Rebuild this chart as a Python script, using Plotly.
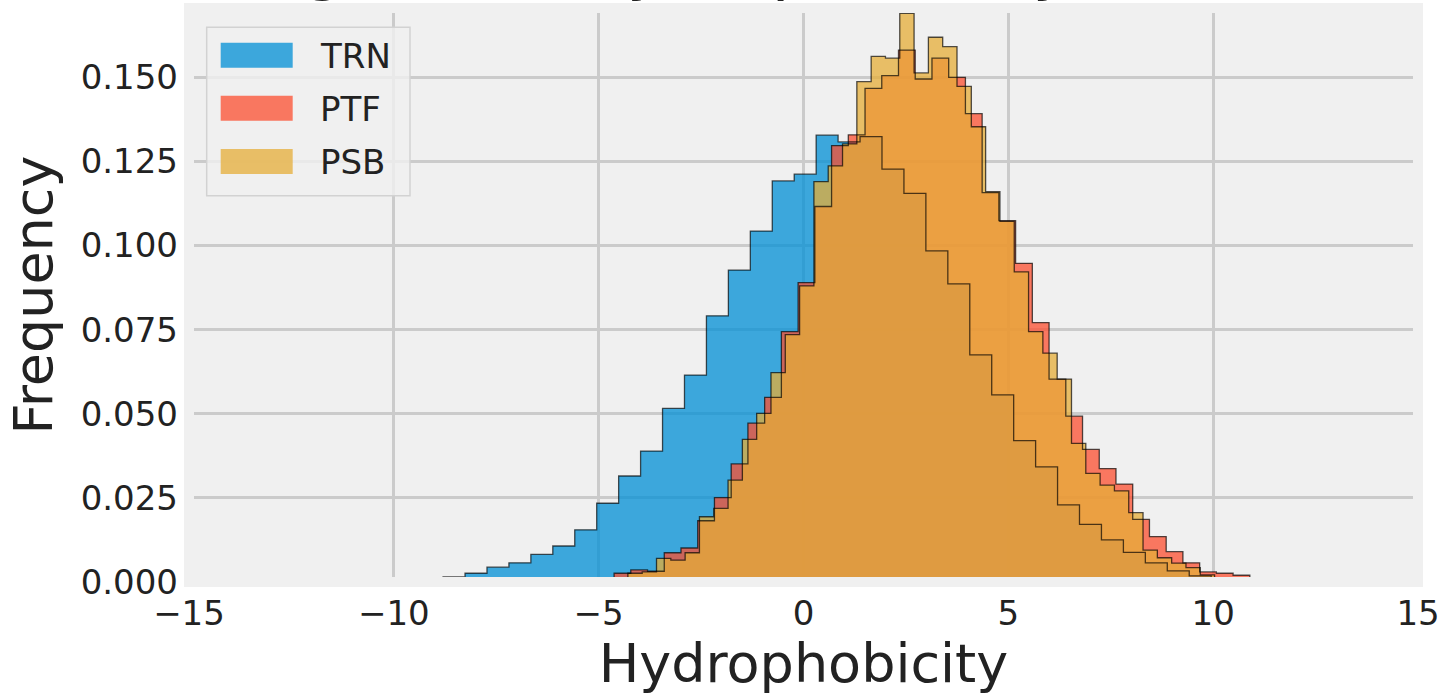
import numpy as np
import plotly.graph_objects as go

# ---------------- data ----------------
series_names = ["TRN", "PTF", "PSB"]

trn_start, trn_width = -8.798, 0.5357
trn_freq = [0.0015, 0.0026, 0.0044, 0.0057, 0.0082, 0.0107, 0.0155, 0.0234, 0.0315, 0.0389,
            0.0516, 0.0615, 0.0791, 0.0927, 0.1043, 0.1192, 0.1212, 0.1328, 0.1308, 0.1324,
            0.1227, 0.1155, 0.0984, 0.0886, 0.0675, 0.0556, 0.0420, 0.0342, 0.0229, 0.0171,
            0.0125, 0.0088, 0.0057, 0.0033, 0.0018]

ptf_start, ptf_width = -4.624, 0.4084
ptf_freq = [0.0026, 0.0036, 0.0032, 0.0087, 0.0101, 0.0182, 0.0251, 0.0351, 0.0472, 0.0549,
            0.0744, 0.0890, 0.1116, 0.1297, 0.1329, 0.1467, 0.1505, 0.1581, 0.1495, 0.1557,
            0.1500, 0.1392, 0.1157, 0.1074, 0.0947, 0.0771, 0.0603, 0.0493, 0.0394, 0.0337,
            0.0291, 0.0186, 0.0135, 0.0090, 0.0057, 0.0030, 0.0026, 0.0020]

psb_start, psb_width = -4.636, 0.3493
psb_freq = [0.0012, 0.0026, 0.0030, 0.0070, 0.0065, 0.0087, 0.0194, 0.0219, 0.0303, 0.0424,
            0.0501, 0.0622, 0.0735, 0.0880, 0.1190, 0.1237, 0.1302, 0.1487, 0.1562, 0.1557,
            0.1690, 0.1513, 0.1619, 0.1591, 0.1473, 0.1353, 0.1160, 0.1072, 0.0922, 0.0744,
            0.0680, 0.0603, 0.0412, 0.0323, 0.0288, 0.0271, 0.0206, 0.0095, 0.0072, 0.0056,
            0.0043, 0.0021]

x_tick_vals = [-15, -10, -5, 0, 5, 10, 15]
x_tick_text = ["\u221215", "\u221210", "\u22125", "0", "5", "10", "15"]
y_tick_vals = [0.0, 0.025, 0.05, 0.075, 0.10, 0.125, 0.15]
y_tick_text = ["0.000", "0.025", "0.050", "0.075", "0.100", "0.125", "0.150"]

title_text = "Histogram of Hydrophobicity Distribution"
x_title = "Hydrophobicity"
y_title = "Frequency"

# ---------------- style ----------------
fill_colors = ["rgba(0,143,213,0.75)", "rgba(252,79,48,0.75)", "rgba(229,174,56,0.75)"]
edge_color = "rgba(0,0,0,0.68)"
FONT = "DejaVu Sans"
TXT = "#222222"

W, H = 1447, 695
ML, MR, MT, MB = 189, 29, 8, 113
PW, PH = W - ML - MR, H - MT - MB


def px2x(px):
    return (px - ML) / PW


def py2y(py):
    return (H - MB - py) / PH


def step_outline(start, width, freq):
    edges = start + width * np.arange(len(freq) + 1)
    xs, ys = [edges[0]], [0.0]
    for i, f in enumerate(freq):
        xs += [edges[i], edges[i + 1]]
        ys += [f, f]
    xs.append(edges[-1])
    ys.append(0.0)
    return xs, ys


series = [(trn_start, trn_width, trn_freq),
          (ptf_start, ptf_width, ptf_freq),
          (psb_start, psb_width, psb_freq)]

fig = go.Figure()
# filled areas
for name, (st, wd, fr), col in zip(series_names, series, fill_colors):
    xs, ys = step_outline(st, wd, fr)
    fig.add_trace(go.Scatter(x=xs, y=ys, mode="lines", fill="toself", fillcolor=col,
                             line=dict(width=0, color=col), name=name,
                             showlegend=False, hoverinfo="skip"))
# step outlines drawn on top of all fills
for name, (st, wd, fr) in zip(series_names, series):
    xs, ys = step_outline(st, wd, fr)
    fig.add_trace(go.Scatter(x=xs, y=ys, mode="lines",
                             line=dict(color=edge_color, width=1.3), name=name + " edge",
                             showlegend=False, hoverinfo="skip"))

shapes = []
annotations = []

# legend frame
lx0, lx1, ly0, ly1 = 206.7, 410, 27.3, 195.7
shapes.append(dict(type="rect", xref="paper", yref="paper",
                   x0=px2x(lx0), x1=px2x(lx1), y0=py2y(ly1), y1=py2y(ly0),
                   fillcolor="rgba(240,240,240,0.8)", line=dict(color="#d2d2d2", width=1.5),
                   layer="above"))
sw_x0, sw_x1 = 220.7, 292.7
sw_tops = [42.7, 95.7, 149.0]
for name, col, top in zip(series_names, fill_colors, sw_tops):
    shapes.append(dict(type="rect", xref="paper", yref="paper",
                       x0=px2x(sw_x0), x1=px2x(sw_x1), y0=py2y(top + 25), y1=py2y(top),
                       fillcolor=col, line=dict(width=0), layer="above"))
    annotations.append(dict(text=name, xref="paper", yref="paper", x=px2x(318),
                            y=py2y(top + 13), xanchor="left", yanchor="middle",
                            showarrow=False, font=dict(family=FONT, size=34, color=TXT)))

# thick background-coloured frame (spines)
shapes.append(dict(type="rect", xref="paper", yref="paper", x0=0, x1=1, y0=0, y1=1,
                   line=dict(color="#f0f0f0", width=10), fillcolor="rgba(0,0,0,0)",
                   layer="above"))

# title (cut off at top of image, as in the reference)
annotations.append(dict(text=title_text, xref="paper", yref="paper", x=0.5, y=py2y(4.5),
                        xanchor="center", yanchor="bottom", showarrow=False,
                        font=dict(family=FONT, size=65, color=TXT)))

fig.update_layout(
    width=W, height=H,
    margin=dict(l=ML, r=MR, t=MT, b=MB, pad=0),
    paper_bgcolor="white", plot_bgcolor="#f0f0f0",
    font=dict(family=FONT, color=TXT),
    shapes=shapes, annotations=annotations,
    showlegend=False,
)
fig.update_xaxes(range=[-15, 15], tickvals=x_tick_vals, ticktext=x_tick_text,
                 showgrid=True, gridcolor="#cbcbcb", gridwidth=3, zeroline=False,
                 showline=False, ticks="", tickfont=dict(family=FONT, size=34, color=TXT),
                 ticklabelstandoff=8,
                 title=dict(text=x_title, font=dict(family=FONT, size=54, color=TXT), standoff=8))
fig.update_yaxes(range=[0, 0.1706], tickvals=y_tick_vals, ticktext=y_tick_text,
                 showgrid=True, gridcolor="#cbcbcb", gridwidth=3, zeroline=False,
                 showline=False, ticks="", tickfont=dict(family=FONT, size=34, color=TXT),
                 ticklabelstandoff=10,
                 title=dict(text=y_title, font=dict(family=FONT, size=54, color=TXT), standoff=10))

fig.write_html("out.html")
